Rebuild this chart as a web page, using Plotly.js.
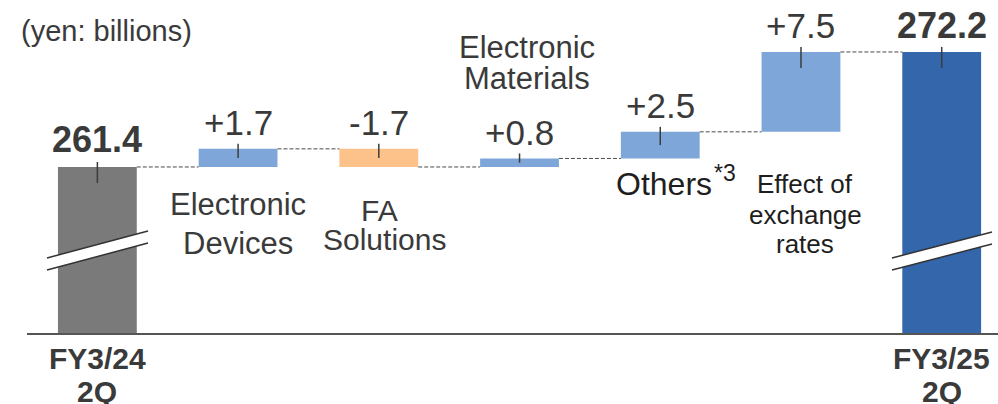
<!DOCTYPE html>
<html>
<head>
<meta charset="utf-8">
<script src="https://cdn.plot.ly/plotly-3.0.1.min.js"></script>
<style>
  html, body { margin: 0; padding: 0; background: #ffffff; }
  #chart { width: 998px; height: 404px; }
</style>
</head>
<body>
<div id="chart"></div>
<script>
// ---------------- data ----------------
const categories = ['FY3/24 2Q', 'Electronic Devices', 'FA Solutions', 'Electronic Materials', 'Others', 'Effect of exchange rates', 'FY3/25 2Q'];
const startTotal = 261.4;
const endTotal = 272.2;
const deltas = [1.7, -1.7, 0.8, 2.5, 7.5];   // Electronic Devices, FA Solutions, Electronic Materials, Others, Effect of exchange rates
const unitLabel = '(yen: billions)';
const totalTickLabels = ['FY3/24', '2Q', 'FY3/25', '2Q'];

// ---------------- layout helpers ----------------
const W = 998, H = 404;
const M = { l: 27, r: 0, t: 10, b: 71 };
const plotW = W - M.l - M.r, plotH = H - M.t - M.b;
const yRange = [245.81, 276.14];
const xRange = [-0.5, 6.4];
const ppu = plotH / (yRange[1] - yRange[0]);          // px per value unit
const pxPerCat = plotW / (xRange[1] - xRange[0]);
const py = p => (H - M.b - p) / plotH;                 // pixel y -> paper y
const pxp = p => (p - M.l) / plotW;                    // pixel x -> paper x
const dx = p => (p - M.l) / pxPerCat + xRange[0];      // pixel x -> data x

const FONT = 'Liberation Sans, Arial, sans-serif';
const C_TOTAL0 = '#7a7a7a', C_TOTAL1 = '#3466ac', C_UP = '#7ea6d9', C_DOWN = '#fcc28a';
const C_TEXT = '#3a3a3a', C_DARK = '#1e1e1e', C_LINE = '#4a4a4a';

// cumulative levels
const bases = [];
let lvl = startTotal;
deltas.forEach(d => { bases.push(lvl); lvl += d; });
const levelsAfter = [startTotal];
deltas.forEach((d, i) => levelsAfter.push(bases[i] + d));

const barW = 0.56;
const traces = [];

// totals
traces.push({
  type: 'bar', x: [0, 6], y: [startTotal, endTotal], base: [0, 0],
  width: barW, marker: { color: [C_TOTAL0, C_TOTAL1], line: { width: 0 } },
  hoverinfo: 'skip', showlegend: false
});
// deltas
traces.push({
  type: 'bar', x: deltas.map((d, i) => i + 1), y: deltas, base: bases,
  width: barW, marker: { color: deltas.map(d => d >= 0 ? C_UP : C_DOWN), line: { width: 0 } },
  hoverinfo: 'skip', showlegend: false
});
// connectors
const cx = [], cy = [];
levelsAfter.forEach((v, i) => {
  cx.push(i + barW / 2, i + 1 - barW / 2, null);
  cy.push(v, v, null);
});
traces.push({
  type: 'scatter', mode: 'lines', x: cx, y: cy,
  line: { color: C_LINE, width: 1, dash: '4px,2px' },
  hoverinfo: 'skip', showlegend: false, connectgaps: false
});

// ---------------- shapes ----------------
const shapes = [];
// leader ticks on bar tops
const tops = [startTotal].concat(deltas.map((d, i) => Math.max(bases[i], bases[i] + d))).concat([endTotal]);
const heightsPx = [1e9].concat(deltas.map(d => Math.abs(d) * ppu)).concat([1e9]);
tops.forEach((t, i) => {
  shapes.push({
    type: 'line', xref: 'x', yref: 'y', x0: i, x1: i,
    y0: t + 5 / ppu, y1: t - Math.min(16, heightsPx[i] / 2) / ppu,
    line: { color: '#3c3c3c', width: 1.5 }
  });
});
// axis break marks
function breakMark(x0, x1, yl0, yl1, gap) {
  const path = `M ${pxp(x0)},${py(yl0)} L ${pxp(x1)},${py(yl1)} L ${pxp(x1)},${py(yl1 + gap)} L ${pxp(x0)},${py(yl0 + gap)} Z`;
  shapes.push({ type: 'path', xref: 'paper', yref: 'paper', path: path, fillcolor: '#ffffff', line: { width: 0 } });
  shapes.push({ type: 'line', xref: 'paper', yref: 'paper', x0: pxp(x0), y0: py(yl0), x1: pxp(x1), y1: py(yl1), line: { color: '#333333', width: 1.5 } });
  shapes.push({ type: 'line', xref: 'paper', yref: 'paper', x0: pxp(x0), y0: py(yl0 + gap), x1: pxp(x1), y1: py(yl1 + gap), line: { color: '#333333', width: 1.5 } });
}
breakMark(47, 148, 258, 231, 12);
breakMark(892, 992, 258, 232, 12);

// ---------------- annotations ----------------
const ann = [];
function txt(o) {
  ann.push(Object.assign({ showarrow: false, xanchor: 'center', yanchor: 'middle' }, o));
}
// unit label
txt({ xref: 'paper', yref: 'paper', x: pxp(19), y: py(31), xanchor: 'left', text: unitLabel,
      font: { family: FONT, size: 29, color: C_TEXT } });
// value labels
const fmt = d => (d >= 0 ? '+' : '-') + Math.abs(d).toFixed(1);
txt({ xref: 'x', yref: 'y', x: 0, y: startTotal, yshift: 27, text: '<b>' + startTotal.toFixed(1) + '</b>',
      font: { family: FONT, size: 36, color: C_TEXT } });
txt({ xref: 'x', yref: 'y', x: 6, y: endTotal, yshift: 26, text: '<b>' + endTotal.toFixed(1) + '</b>',
      font: { family: FONT, size: 36, color: C_TEXT } });
deltas.forEach((d, i) => {
  txt({ xref: 'x', yref: 'y', x: i + 1, y: tops[i + 1], yshift: 26, text: fmt(d),
        font: { family: FONT, size: 35, color: C_TEXT } });
});
// category labels
const catFont = (s, c) => ({ family: FONT, size: s, color: c || C_TEXT });
txt({ xref: 'x', yref: 'paper', x: 1, y: py(204), text: 'Electronic', font: catFont(31) });
txt({ xref: 'x', yref: 'paper', x: 1, y: py(243), text: 'Devices', font: catFont(31) });
txt({ xref: 'x', yref: 'paper', x: dx(379), y: py(210), text: 'FA', font: catFont(30) });
txt({ xref: 'x', yref: 'paper', x: dx(384), y: py(239), text: 'Solutions', font: catFont(30) });
txt({ xref: 'x', yref: 'paper', x: dx(527), y: py(47), text: 'Electronic', font: catFont(31) });
txt({ xref: 'x', yref: 'paper', x: dx(527), y: py(78), text: 'Materials', font: catFont(31) });
txt({ xref: 'x', yref: 'paper', x: dx(664), y: py(184), text: 'Others', font: catFont(32, C_DARK) });
txt({ xref: 'x', yref: 'paper', x: dx(725), y: py(173), text: '*3', font: catFont(23, C_DARK) });
txt({ xref: 'x', yref: 'paper', x: dx(805), y: py(184), text: 'Effect of', font: catFont(26, C_DARK) });
txt({ xref: 'x', yref: 'paper', x: dx(805), y: py(215), text: 'exchange', font: catFont(26, C_DARK) });
txt({ xref: 'x', yref: 'paper', x: dx(805), y: py(244), text: 'rates', font: catFont(26, C_DARK) });
// total tick labels
txt({ xref: 'x', yref: 'paper', x: 0, y: py(358), text: '<b>' + totalTickLabels[0] + '</b>', font: catFont(30) });
txt({ xref: 'x', yref: 'paper', x: 0, y: py(392), text: '<b>' + totalTickLabels[1] + '</b>', font: catFont(30) });
txt({ xref: 'x', yref: 'paper', x: 6, y: py(358), text: '<b>' + totalTickLabels[2] + '</b>', font: catFont(30) });
txt({ xref: 'x', yref: 'paper', x: 6, y: py(392), text: '<b>' + totalTickLabels[3] + '</b>', font: catFont(30) });

const layout = {
  width: W, height: H,
  margin: M,
  paper_bgcolor: '#ffffff', plot_bgcolor: '#ffffff',
  barmode: 'overlay',
  showlegend: false,
  xaxis: { range: xRange, showgrid: false, zeroline: false, showticklabels: false, ticks: '',
           showline: true, linecolor: '#555555', linewidth: 1.5, fixedrange: true },
  yaxis: { range: yRange, showgrid: false, zeroline: false, showticklabels: false, ticks: '',
           showline: false, fixedrange: true },
  shapes: shapes,
  annotations: ann
};

Plotly.newPlot('chart', traces, layout, { displayModeBar: false, staticPlot: true });
</script>
</body>
</html>
